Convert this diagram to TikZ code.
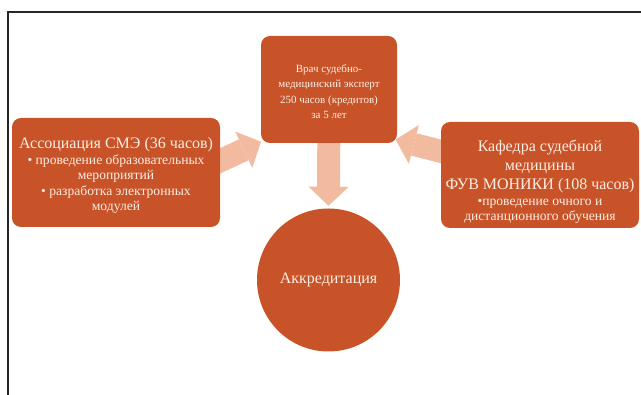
\documentclass[tikz,border=0pt]{standalone}
\usepackage{fontspec}
\setmainfont{Liberation Serif}
\usetikzlibrary{arrows.meta,backgrounds}
\definecolor{boxcolor}{RGB}{201,83,40}
\definecolor{arrowcolor}{RGB}{242,187,160}
\definecolor{lettercolor}{RGB}{250,238,228}
\newcommand{\smallsize}{\fontsize{13.6}{14.5}\selectfont}
\begin{document}
\begin{tikzpicture}[x=1pt,y=-1pt,
  box/.style={fill=boxcolor,text=lettercolor,rounded corners=9pt,align=center,inner sep=0pt},
  bigtext/.style={font=\fontsize{16}{19}\selectfont},
  smalltext/.style={font=\fontsize{13.6}{15.5}\selectfont},
  bigarrow/.style={arrowcolor,line width=23pt,-{Triangle[length=19pt,width=40pt,line width=0pt]}}]
\useasboundingbox (0,0) rectangle (641,395);
\draw[line width=1.4pt,black!85] (8,395) -- (8,12) -- (641,12);
\node[box,font=\fontsize{11}{15.5}\selectfont,minimum width=136pt,minimum height=107pt] (vrach) at (329,89.5)
  {\rule{0pt}{12pt}Врач судебно-\\медицинский эксперт\\250 часов (кредитов)\\за 5 лет};
\node[box,smalltext,minimum width=208pt,minimum height=109pt] (sme) at (116,172.5)
  {\rule{0pt}{17pt}{\fontsize{16}{19}\selectfont Ассоциация СМЭ (36 часов)}\\[0.5pt]
   • проведение образовательных\\мероприятий\\• разработка электронных\\модулей};
\node[box,bigtext,minimum width=198pt,minimum height=106pt] (kafedra) at (540,175)
  {\rule{0pt}{25pt}Кафедра судебной\\медицины\\ФУВ МОНИКИ (108 часов)\\[-3.5pt]
   \smallsize •проведение очного и\\[-4pt]\smallsize дистанционного обучения};
\node[box,bigtext,circle,minimum size=143pt] (akkr) at (328.5,280) {Аккредитация};
\coordinate (smefoot) at (200,170.3);
\coordinate (smetip) at (261,141.7);
\coordinate (kafedrafoot) at (460,156.4);
\coordinate (kafedratip) at (395.5,139.6);
\begin{pgfonlayer}{background}
\draw[bigarrow,shorten >=2.5pt] (vrach) -- (akkr.north);
\draw[bigarrow] (smefoot) -- (smetip);
\draw[bigarrow] (kafedrafoot) -- (kafedratip);
\end{pgfonlayer}
\end{tikzpicture}
\end{document}
